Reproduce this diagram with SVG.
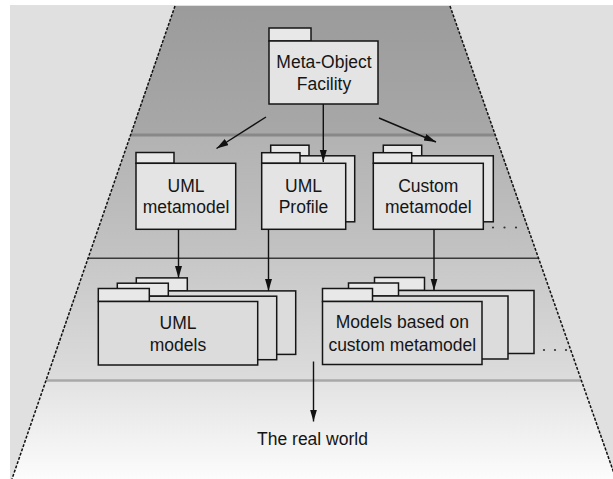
<svg xmlns="http://www.w3.org/2000/svg" width="613" height="479" viewBox="0 0 613 479">
  <defs>
    <linearGradient id="g1" x1="0" y1="0" x2="0" y2="1">
      <stop offset="0" stop-color="#9b9b9b"/>
      <stop offset="1" stop-color="#a8a8a8"/>
    </linearGradient>
    <linearGradient id="g2" x1="0" y1="0" x2="0" y2="1">
      <stop offset="0" stop-color="#b2b2b2"/>
      <stop offset="1" stop-color="#c3c3c3"/>
    </linearGradient>
    <linearGradient id="g3" x1="0" y1="0" x2="0" y2="1">
      <stop offset="0" stop-color="#c7c7c7"/>
      <stop offset="1" stop-color="#dcdcdc"/>
    </linearGradient>
    <linearGradient id="g4" x1="0" y1="0" x2="0" y2="1">
      <stop offset="0" stop-color="#e2e2e2"/>
      <stop offset="1" stop-color="#fcfcfc"/>
    </linearGradient>
    <marker id="arrow" markerUnits="userSpaceOnUse" markerWidth="13" markerHeight="8" refX="12" refY="3.5" orient="auto">
      <path d="M0,0 L12,3.5 L0,7 z" fill="#111"/>
    </marker>
  </defs>
  <style>
    .box { fill: #e4e4e4; stroke: #151515; stroke-width: 1.5; }
    .tab { fill: #e8e8e8; stroke: #151515; stroke-width: 1.5; }
    .mbox { fill: #dcdcdc; stroke: #151515; stroke-width: 1.5; }
    .lbl { font-family: "Liberation Sans", Arial, sans-serif; font-size: 17.5px; fill: #151515; text-anchor: middle; }
    .edge { fill: none; stroke: #111; stroke-width: 1.5; stroke-dasharray: 3 1.5; }
    .conn { fill: none; stroke: #111; stroke-width: 1.4; marker-end: url(#arrow); }
    .dot { fill: #333; }
  </style>

  <!-- page background -->
  <rect x="0" y="0" width="613" height="479" fill="#ffffff"/>
  <rect x="10" y="5" width="603" height="474" fill="#e0e0e0"/>

  <!-- layered trapezoid -->
  <g id="layers">
    <polygon points="175,6 450,6 495.6,136 130.2,136" fill="url(#g1)"/>
    <polygon points="130.9,134 494.9,134 538.5,258 88.2,258" fill="url(#g2)"/>
    <polygon points="88.2,258 538.5,258 581.3,380 46.1,380" fill="url(#g3)"/>
    <polygon points="46.1,380 581.3,380 616,479 12,479" fill="url(#g4)"/>
    <line x1="131" y1="135" x2="495" y2="135" stroke="#888" stroke-width="3"/>
    <line x1="88.2" y1="258.3" x2="538.5" y2="258.3" stroke="#3a3a3a" stroke-width="1.4"/>
    <line x1="46" y1="380.5" x2="581" y2="380.5" stroke="#a8a8a8" stroke-width="2.5"/>
    <line class="edge" x1="175" y1="6" x2="12" y2="479"/>
    <line class="edge" x1="450" y1="6" x2="616" y2="479"/>
  </g>

  <!-- Meta-Object Facility -->
  <g id="mof">
    <rect class="tab" x="269" y="28" width="42" height="13"/>
    <rect class="box" x="269" y="41" width="109" height="63"/>
    <text class="lbl" x="324" y="68">Meta-Object</text>
    <text class="lbl" x="324" y="90">Facility</text>
  </g>

  <!-- UML metamodel -->
  <g id="uml-metamodel">
    <rect class="tab" x="136" y="152.5" width="38" height="10.8"/>
    <rect class="box" x="136" y="163.3" width="99.7" height="66"/>
    <text class="lbl" x="186" y="192.3">UML</text>
    <text class="lbl" x="186" y="213.3">metamodel</text>
  </g>

  <!-- UML Profile (stacked) -->
  <g id="uml-profile">
    <rect class="tab" x="270.7" y="145.2" width="38.3" height="10.6"/>
    <rect class="box" x="270.7" y="155.8" width="84" height="66"/>
    <rect class="tab" x="261.7" y="152.7" width="38.3" height="10.6"/>
    <rect class="box" x="261.7" y="163.3" width="84" height="66"/>
    <text class="lbl" x="303.5" y="192.3">UML</text>
    <text class="lbl" x="303.5" y="213.3">Profile</text>
  </g>

  <!-- Custom metamodel (stacked) -->
  <g id="custom-metamodel">
    <rect class="tab" x="383.3" y="145.2" width="38.4" height="10.6"/>
    <rect class="box" x="383.3" y="155.8" width="110" height="66"/>
    <rect class="tab" x="373.3" y="152.7" width="38.4" height="10.6"/>
    <rect class="box" x="373.3" y="163.3" width="110" height="66"/>
    <text class="lbl" x="428.3" y="192.3">Custom</text>
    <text class="lbl" x="428.3" y="213.3">metamodel</text>
    <circle class="dot" cx="493" cy="227.5" r="1.1"/>
    <circle class="dot" cx="504.5" cy="227.5" r="1.1"/>
    <circle class="dot" cx="516" cy="227.5" r="1.1"/>
  </g>

  <!-- UML models (three stacked packages) -->
  <g id="uml-models">
    <rect class="tab" x="136.3" y="277.9" width="51" height="13"/>
    <rect class="mbox" x="136.3" y="290.9" width="159.4" height="63.5"/>
    <rect class="tab" x="117.3" y="283.2" width="51" height="13"/>
    <rect class="mbox" x="117.3" y="296.2" width="159.4" height="63.5"/>
    <rect class="tab" x="98.3" y="288.5" width="51" height="13"/>
    <rect class="mbox" x="98.3" y="301.5" width="159.4" height="63.5"/>
    <text class="lbl" x="178" y="329">UML</text>
    <text class="lbl" x="178" y="350.5">models</text>
  </g>

  <!-- Models based on custom metamodel (three stacked packages) -->
  <g id="custom-models">
    <rect class="tab" x="374.5" y="277.5" width="50" height="13"/>
    <rect class="mbox" x="374.5" y="290.5" width="159.5" height="63"/>
    <rect class="tab" x="348.5" y="283" width="50" height="13"/>
    <rect class="mbox" x="348.5" y="296" width="159.5" height="63"/>
    <rect class="tab" x="322.5" y="288.5" width="50" height="13"/>
    <rect class="mbox" x="322.5" y="301.5" width="159.5" height="63"/>
    <text class="lbl" x="402.3" y="328.3">Models based on</text>
    <text class="lbl" x="402.3" y="350.5">custom metamodel</text>
    <circle class="dot" cx="544" cy="350" r="1.1"/>
    <circle class="dot" cx="555" cy="350" r="1.1"/>
    <circle class="dot" cx="566" cy="350" r="1.1"/>
  </g>

  <!-- The real world -->
  <g id="real-world">
    <text class="lbl" x="312.5" y="445">The real world</text>
  </g>

  <!-- connectors -->
  <g id="connectors">
    <line class="conn" x1="266" y1="117" x2="216.5" y2="148.5"/>
    <line class="conn" x1="323.3" y1="104" x2="323.3" y2="162"/>
    <line class="conn" x1="379" y1="118" x2="436" y2="142"/>
    <line class="conn" x1="178.5" y1="229.3" x2="178.5" y2="278"/>
    <line class="conn" x1="268.5" y1="229.3" x2="268.5" y2="290.9"/>
    <line class="conn" x1="434" y1="229.3" x2="434" y2="290.5"/>
    <line class="conn" x1="313.5" y1="361.5" x2="313.5" y2="421.5"/>
  </g>
</svg>
